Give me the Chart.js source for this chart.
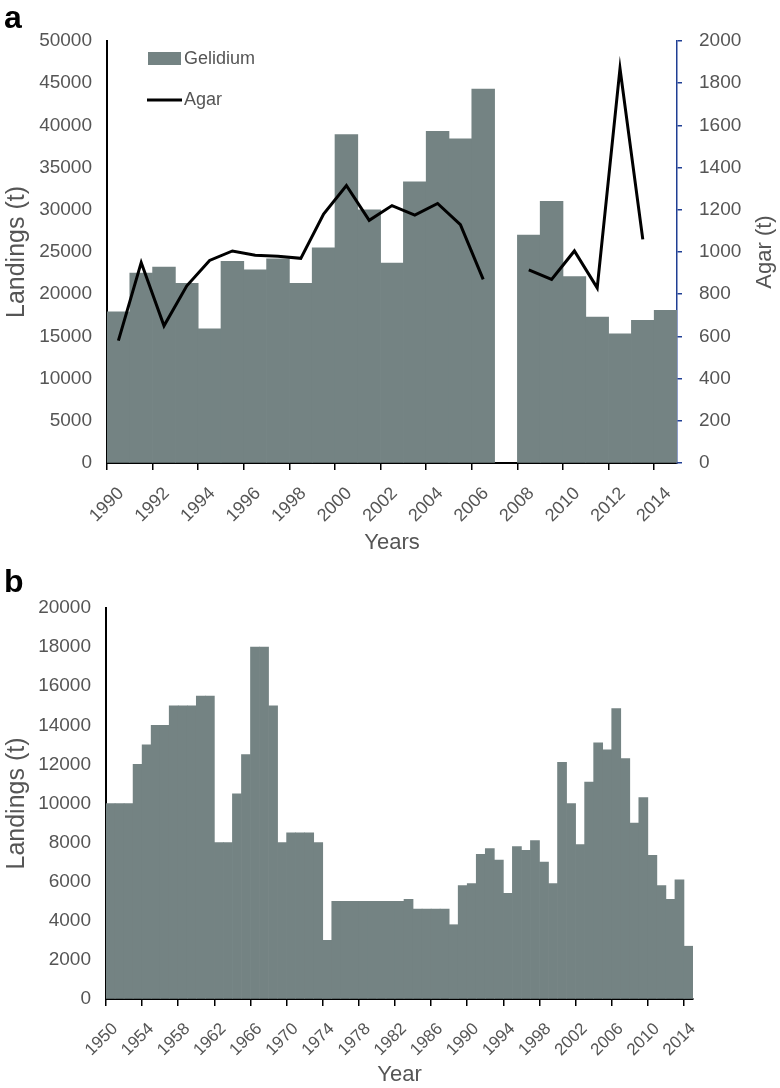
<!DOCTYPE html>
<html>
<head>
<meta charset="utf-8">
<script src="https://cdn.jsdelivr.net/npm/chart.js@4.4.1/dist/chart.umd.min.js"></script>
<style>
  html, body { margin: 0; padding: 0; background: #fff; }
  body { width: 780px; height: 1088px; position: relative; overflow: hidden; font-family: "Liberation Sans", Arial, sans-serif; }
  .panel { position: absolute; left: 0; width: 780px; }
  #panelA { top: 0; height: 560px; }
  #panelB { top: 560px; height: 528px; }
  .tag { position: absolute; left: 4px; font-weight: bold; font-size: 32px; line-height: 32px; color: #000; }
</style>
</head>
<body>
<div class="panel" id="panelA"><canvas id="chartA" width="780" height="560"></canvas></div>
<div class="panel" id="panelB"><canvas id="chartB" width="780" height="528"></canvas></div>
<div class="tag" style="top:1px">a</div>
<div class="tag" style="top:565px">b</div>
<script>
// ---- panel a: Gelidium landings + agar production ----
const yearsA = [1990, 1991, 1992, 1993, 1994, 1995, 1996, 1997, 1998, 1999, 2000, 2001, 2002,
                2003, 2004, 2005, 2006, 2007, 2008, 2009, 2010, 2011, 2012, 2013, 2014];
const gelidium = [17900, 22500, 23200, 21300, 15900, 23900, 22900, 24200, 21300, 25500, 38900, 30000, 23700,
                  33300, 39300, 38400, 44300, null, 27000, 31000, 22100, 17300, 15300, 16900, 18100];
const agar = [580, 950, 650, 840, 960, 1005, 985, 980, 970, 1180, 1315, 1150, 1220,
              1175, 1230, 1130, 870, null, 915, 870, 1005, 830, 1870, 1060, null];
const tickYearsA = [1990, 1992, 1994, 1996, 1998, 2000, 2002, 2004, 2006, 2008, 2010, 2012, 2014];
const landingsTicksA = [0, 50000, 5000];
const agarTicks = [0, 2000, 200];

// ---- panel b: landings 1950-2014 ----
const yearsB = [1950, 1951, 1952, 1953, 1954, 1955, 1956, 1957, 1958, 1959, 1960, 1961, 1962, 1963, 1964,
                1965, 1966, 1967, 1968, 1969, 1970, 1971, 1972, 1973, 1974, 1975, 1976, 1977, 1978, 1979,
                1980, 1981, 1982, 1983, 1984, 1985, 1986, 1987, 1988, 1989, 1990, 1991, 1992, 1993, 1994,
                1995, 1996, 1997, 1998, 1999, 2000, 2001, 2002, 2003, 2004, 2005, 2006, 2007, 2008, 2009,
                2010, 2011, 2012, 2013, 2014];
const landingsB = [10000, 10000, 10000, 12000, 13000, 14000, 14000, 15000, 15000, 15000, 15500, 15500, 8000, 8000, 10500,
                   12500, 18000, 18000, 15000, 8000, 8500, 8500, 8500, 8000, 3000, 5000, 5000, 5000, 5000, 5000,
                   5000, 5000, 5000, 5100, 4600, 4600, 4600, 4600, 3800, 5800, 5900, 7400, 7700, 7100, 5400,
                   7800, 7600, 8100, 7000, 5900, 12100, 10000, 7900, 11100, 13100, 12750, 14850, 12300, 9000, 10300,
                   7350, 5800, 5100, 6100, 2700];
const tickYearsB = [1950, 1954, 1958, 1962, 1966, 1970, 1974, 1978, 1982, 1986, 1990, 1994, 1998, 2002, 2006, 2010, 2014];
const landingsTicksB = [0, 20000, 2000];

const barColor = '#748383';
const textColor = '#555';
const axisBlue = '#203f94';
Chart.defaults.font.family = '"Liberation Sans", Arial, sans-serif';
Chart.defaults.color = textColor;

// each bar covers its whole year: centre at year + 0.5
const toPoints = (years, vals) => years.map((yr, i) => ({ x: yr + 0.5, y: vals[i] }));
const plain = v => String(v);
const fixedTicks = list => scale => { scale.ticks = list.map(v => ({ value: v })); };

// legend inside the plot + right-hand title reading upwards
const extrasA = {
  id: 'extrasA',
  afterDraw(chart) {
    const ctx = chart.ctx;
    const ca = chart.chartArea;
    ctx.save();
    ctx.font = '18px "Liberation Sans", Arial, sans-serif';
    ctx.textBaseline = 'middle';
    // Gelidium
    ctx.fillStyle = barColor;
    ctx.fillRect(ca.left + 41, ca.top + 11, 33, 13);
    ctx.fillStyle = textColor;
    ctx.fillText(chart.data.datasets[1].label, ca.left + 77, ca.top + 18);
    // Agar
    ctx.strokeStyle = '#000';
    ctx.lineWidth = 3;
    ctx.beginPath();
    ctx.moveTo(ca.left + 40, ca.top + 59);
    ctx.lineTo(ca.left + 75, ca.top + 59);
    ctx.stroke();
    ctx.fillText(chart.data.datasets[0].label, ca.left + 77, ca.top + 59);
    // right axis title
    ctx.font = '22px "Liberation Sans", Arial, sans-serif';
    ctx.textAlign = 'center';
    ctx.translate(765, (ca.top + ca.bottom) / 2);
    ctx.rotate(-Math.PI / 2);
    ctx.fillText('Agar (t)', 0, 0);
    ctx.restore();
  }
};

new Chart(document.getElementById('chartA'), {
  type: 'bar',
  data: {
    datasets: [{
      type: 'line',
      label: 'Agar',
      data: toPoints(yearsA, agar),
      yAxisID: 'y2',
      borderColor: '#000',
      borderWidth: 3,
      pointRadius: 0,
      tension: 0,
      spanGaps: false,
      order: 0
    }, {
      label: 'Gelidium',
      data: toPoints(yearsA, gelidium),
      yAxisID: 'y',
      backgroundColor: barColor,
      borderWidth: 0,
      barPercentage: 1,
      categoryPercentage: 1,
      order: 1
    }]
  },
  options: {
    responsive: false,
    animation: false,
    layout: { padding: { top: 41, left: 0, right: 0, bottom: 0 } },
    plugins: { legend: { display: false }, tooltip: { enabled: false } },
    scales: {
      x: {
        type: 'linear', min: 1990, max: 2015, offset: false,
        afterBuildTicks: fixedTicks(tickYearsA),
        border: { color: '#000', width: 2 },
        grid: { offset: false, drawOnChartArea: false, tickLength: 7, color: '#000', lineWidth: 1.5 },
        ticks: { autoSkip: false, minRotation: 45, maxRotation: 45, labelOffset: 14,
                 padding: 13, font: { size: 18 }, callback: plain },
        title: { display: true, text: 'Years', font: { size: 22 }, padding: { top: 0, bottom: 4 } },
        afterFit: s => { s.height = 97; }
      },
      y: {
        position: 'left',
        min: landingsTicksA[0], max: landingsTicksA[1],
        border: { color: '#000', width: 2 },
        grid: { drawOnChartArea: false, drawTicks: false },
        ticks: { stepSize: landingsTicksA[2], padding: 15, font: { size: 19 }, callback: plain },
        title: { display: true, text: 'Landings (t)', font: { size: 25 }, padding: { top: 2, bottom: 0 } },
        afterFit: s => { s.width = 107; }
      },
      y2: {
        position: 'right',
        min: agarTicks[0], max: agarTicks[1],
        border: { color: axisBlue, width: 1.5 },
        grid: { drawOnChartArea: false, tickLength: 5, color: axisBlue, lineWidth: 1.5 },
        ticks: { stepSize: agarTicks[2], padding: 17, font: { size: 19 }, callback: plain },
        afterFit: s => { s.width = 103; }
      }
    }
  },
  plugins: [extrasA]
});

new Chart(document.getElementById('chartB'), {
  type: 'bar',
  data: {
    datasets: [{
      label: 'Landings',
      data: toPoints(yearsB, landingsB),
      backgroundColor: barColor,
      borderWidth: 0,
      barPercentage: 1,
      categoryPercentage: 1
    }]
  },
  options: {
    responsive: false,
    animation: false,
    layout: { padding: { top: 48, left: 0, right: 87, bottom: 0 } },
    plugins: { legend: { display: false }, tooltip: { enabled: false } },
    scales: {
      x: {
        type: 'linear', min: 1950, max: 2015, offset: false,
        afterBuildTicks: fixedTicks(tickYearsB),
        border: { color: '#000', width: 2 },
        grid: { offset: false, drawOnChartArea: false, tickLength: 7, color: '#000', lineWidth: 1.5 },
        ticks: { autoSkip: false, minRotation: 45, maxRotation: 45, labelOffset: 9,
                 padding: 13, font: { size: 17 }, callback: plain },
        title: { display: true, text: 'Year', font: { size: 22 }, padding: { top: 0, bottom: 0 } },
        afterFit: s => { s.height = 89; }
      },
      y: {
        min: landingsTicksB[0], max: landingsTicksB[1],
        border: { color: '#000', width: 2 },
        grid: { drawOnChartArea: false, drawTicks: false },
        ticks: { stepSize: landingsTicksB[2], padding: 15, font: { size: 19 }, callback: plain },
        title: { display: true, text: 'Landings (t)', font: { size: 25 }, padding: { top: 2, bottom: 0 } },
        afterFit: s => { s.width = 106; }
      }
    }
  }
});
</script>
</body>
</html>
